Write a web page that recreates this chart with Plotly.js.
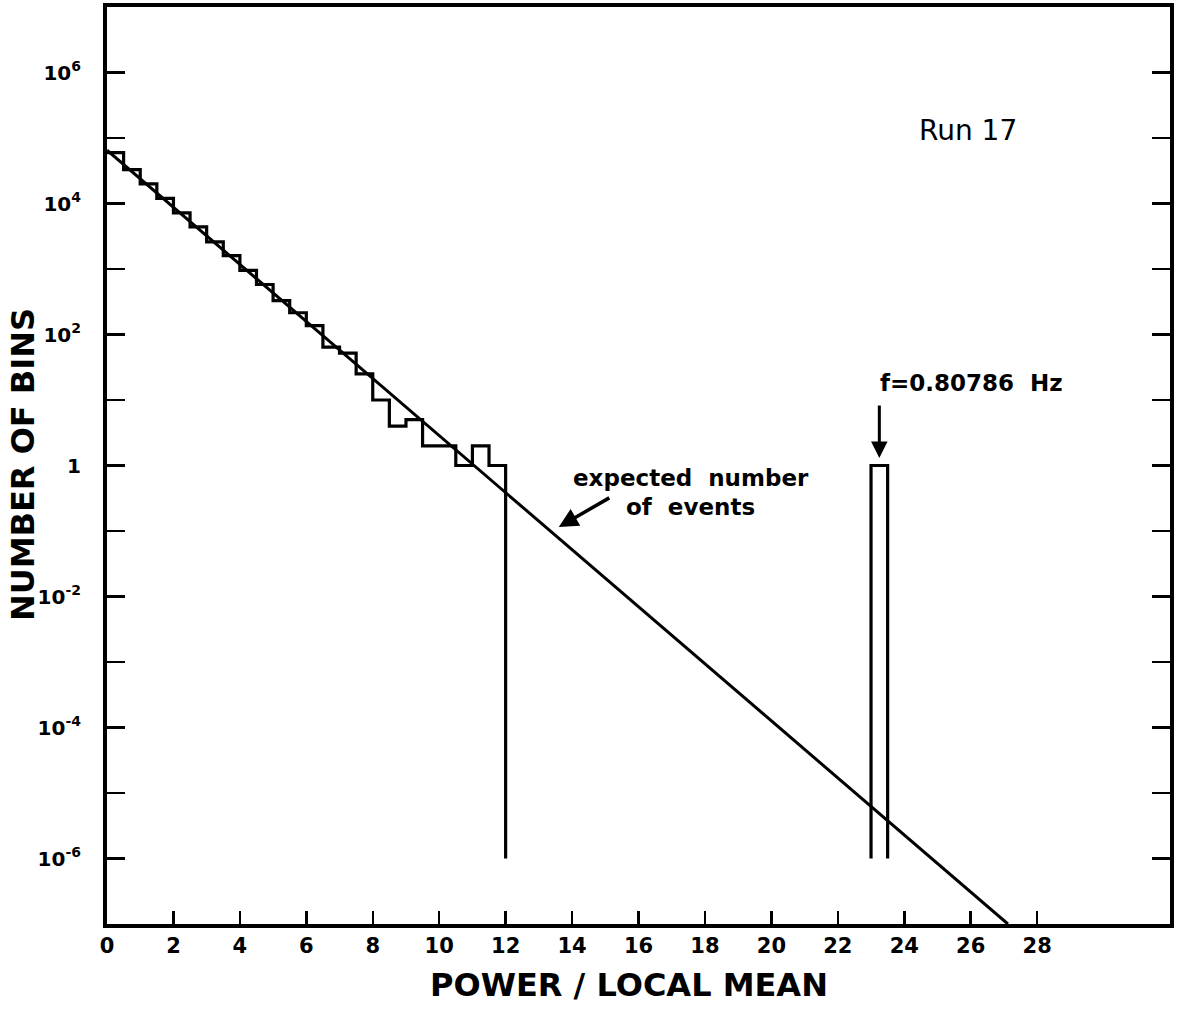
<!DOCTYPE html>
<html>
<head>
<meta charset="utf-8">
<script src="https://cdn.plot.ly/plotly-3.0.1.min.js"></script>
<style>html,body{margin:0;padding:0;background:#fff;}#chart{width:1177px;height:1011px;}</style>
</head>
<body>
<div id="chart"></div>
<script>
// Histogram: bins of width 0.5 (left edges) and counts
const binLeft = [0,0.5,1,1.5,2,2.5,3,3.5,4,4.5,5,5.5,6,6.5,7,7.5,8,8.5,9,9.5,10,10.5,11,11.5];
const binCount = [60000,33000,20000,12000,7200,4400,2600,1600,950,580,330,215,137,64,52,25,10,4,5,2,2,1,2,1];
const binWidth = 0.5;
// Isolated signal bin
const spikeLeft = [23];
const spikeCount = [1];
const floorValue = 1e-6;   // level where the drawn bin edges stop
// Expected number of events (straight line on the log plot), endpoints
const expX = [0, 27.12];
const expY = [65000, 1e-7];
// Tick labels
const xTicks = [0,2,4,6,8,10,12,14,16,18,20,22,24,26,28];
const yTickVals = [1e-6,1e-5,1e-4,1e-3,1e-2,1e-1,1,10,100,1000,1e4,1e5,1e6];
const yTickText = ['10<sup>-6</sup>','','10<sup>-4</sup>','','10<sup>-2</sup>','','1','','10<sup>2</sup>','','10<sup>4</sup>','','10<sup>6</sup>'];

// Build step outline of the main histogram
const hx = [], hy = [];
binLeft.forEach((l, i) => { hx.push(l, l + binWidth); hy.push(binCount[i], binCount[i]); });
hx.push(binLeft[binLeft.length-1] + binWidth); hy.push(floorValue);
// Spike outline
const sx = [], sy = [];
spikeLeft.forEach((l, i) => { sx.push(l, l, l + binWidth, l + binWidth); sy.push(floorValue, spikeCount[i], spikeCount[i], floorValue); });

const FONT = 'DejaVu Sans, Verdana, sans-serif';
const data = [
  {x: hx, y: hy, mode: 'lines', line: {color: '#000', width: 3.2}, hoverinfo: 'skip', showlegend: false},
  {x: sx, y: sy, mode: 'lines', line: {color: '#000', width: 3.2}, hoverinfo: 'skip', showlegend: false},
  {x: expX, y: expY, mode: 'lines', line: {color: '#000', width: 3}, hoverinfo: 'skip', showlegend: false}
];

// plot area in pixels
const L = 107, R = 7, T = 7, B = 87, W = 1177, H = 1011;
const px = v => (v - L) / (W - L - R);
const py = v => 1 - (v - T) / (H - T - B);

const layout = {
  width: W, height: H,
  margin: {l: L, r: R, t: T, b: B},
  paper_bgcolor: '#fff', plot_bgcolor: '#fff',
  font: {family: FONT, color: '#000'},
  xaxis: {
    range: [0, 32], tickvals: xTicks, ticks: 'inside', ticklen: 13, tickwidth: 2.5, tickcolor: '#000',
    showline: true, linewidth: 4, linecolor: '#000', mirror: true, showgrid: false, zeroline: false,
    tickfont: {size: 21, family: FONT, weight: 'bold'}
  },
  yaxis: {
    type: 'log', range: [-7, 7], tickvals: yTickVals, ticktext: yTickText,
    ticks: 'inside', ticklen: 18, tickwidth: 2.5, tickcolor: '#000',
    showline: true, linewidth: 4, linecolor: '#000', mirror: 'ticks', showgrid: false, zeroline: false,
    tickfont: {size: 20, family: FONT, weight: 'bold'}, ticklabelstandoff: 18
  },
  annotations: [
    {x: px(629), y: py(985), xref: 'paper', yref: 'paper', text: 'POWER / LOCAL MEAN', showarrow: false,
     font: {size: 32, family: FONT, weight: 'bold'}, xanchor: 'center', yanchor: 'middle'},
    {x: px(23), y: py(465), xref: 'paper', yref: 'paper', text: 'NUMBER OF BINS', showarrow: false,
     textangle: -90, font: {size: 32, family: FONT, weight: 'bold'}, xanchor: 'center', yanchor: 'middle'},
    {x: px(968), y: py(130), xref: 'paper', yref: 'paper', text: 'Run 17', showarrow: false,
     font: {size: 28, family: FONT}, xanchor: 'center', yanchor: 'middle'},
    {x: px(971), y: py(383), xref: 'paper', yref: 'paper', text: 'f=0.80786  Hz', showarrow: false,
     font: {size: 23, family: FONT, weight: 'bold'}, xanchor: 'center', yanchor: 'middle'},
    {x: 23.25, y: Math.log10(1.3), xref: 'x', yref: 'y', text: '', showarrow: true,
     arrowhead: 2, arrowsize: 1.1, arrowwidth: 3, arrowcolor: '#000', ax: 0, ay: -54},
    {x: px(691), y: py(478), xref: 'paper', yref: 'paper', text: 'expected  number', showarrow: false,
     font: {size: 23, family: FONT, weight: 'bold'}, xanchor: 'center', yanchor: 'middle'},
    {x: px(690), y: py(507), xref: 'paper', yref: 'paper', text: 'of  events', showarrow: false,
     font: {size: 23, family: FONT, weight: 'bold'}, xanchor: 'center', yanchor: 'middle'},
    {x: 13.6, y: Math.log10(0.115), xref: 'x', yref: 'y', text: '', showarrow: true,
     arrowhead: 2, arrowsize: 1.1, arrowwidth: 3.5, arrowcolor: '#000', ax: 52, ay: -30}
  ]
};

Plotly.newPlot('chart', data, layout, {displayModeBar: false, staticPlot: true});
</script>
</body>
</html>
